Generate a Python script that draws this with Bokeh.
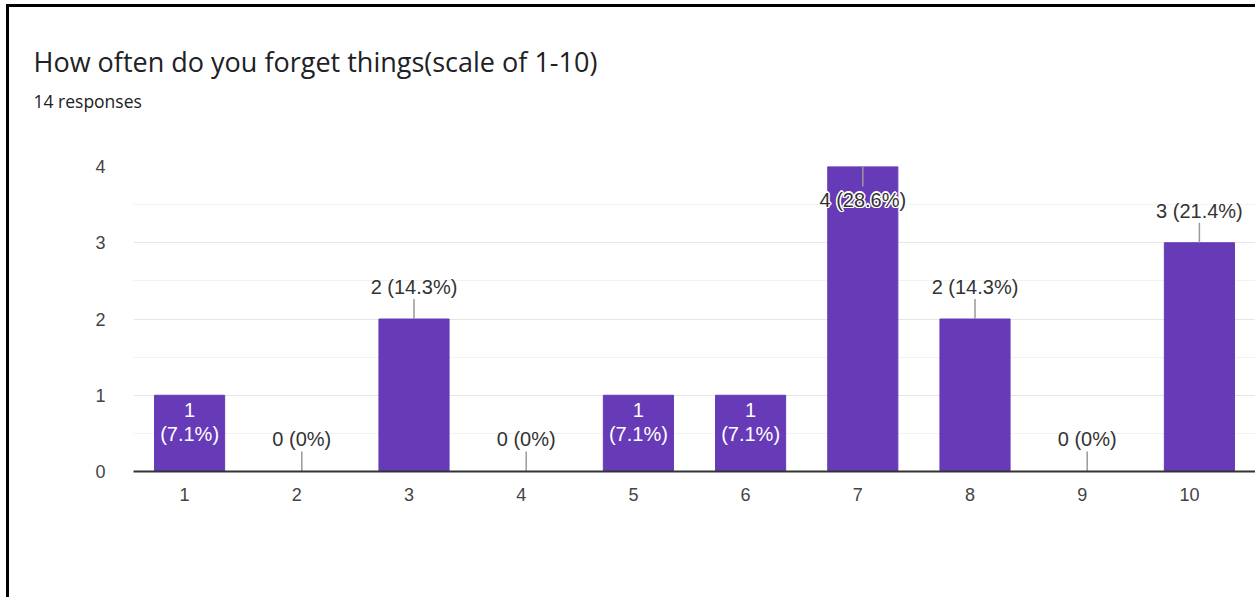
from bokeh.plotting import figure
from bokeh.models import (Title, ColumnDataSource, FactorRange, InlineStyleSheet,
                          Range1d, SingleIntervalTicker)
from bokeh.core.properties import value
from bokeh.embed import file_html
from bokeh.resources import INLINE

# ---- data ----
categories = ["1", "2", "3", "4", "5", "6", "7", "8", "9", "10"]
counts = [1, 0, 2, 0, 1, 1, 4, 2, 0, 3]
pct_labels = ["7.1%", "0%", "14.3%", "0%", "7.1%", "7.1%", "28.6%", "14.3%", "0%", "21.4%"]
y_ticks = [0, 1, 2, 3, 4]
title_text = "How often do you forget things(scale of 1-10)"
subtitle_text = "14 responses"

W, H = 1255, 597
LEFT, BOTTOM = 133, 126
Y_MAX = 4
frame_h = 304
u = Y_MAX / frame_h  # data units per pixel

p = figure(x_range=FactorRange(factors=categories, range_padding=0),
           y_range=Range1d(0, Y_MAX), width=W, height=H,
           output_backend="svg", toolbar_location=None,
           min_border_left=LEFT, min_border_right=0,
           min_border_top=0, min_border_bottom=BOTTOM)
p.outline_line_color = None
p.background_fill_color = "white"
p.border_fill_color = "white"

src = ColumnDataSource(dict(cat=categories, count=counts))
p.vbar(x="cat", top="count", width=0.625, source=src,
       fill_color="#673ab7", line_color="#673ab7")

# axes / grid
p.yaxis.ticker = SingleIntervalTicker(interval=1, num_minor_ticks=2)
p.yaxis.axis_line_color = None
p.yaxis.major_tick_line_color = None
p.yaxis.minor_tick_line_color = None
p.yaxis.major_label_standoff = 22
p.xaxis.axis_line_color = "#333333"
p.xaxis.axis_line_width = 2
p.xaxis.major_tick_line_color = None
p.xaxis.major_label_standoff = 17
for ax in (p.xaxis[0], p.yaxis[0]):
    ax.major_label_text_font = "Liberation Sans"
    ax.major_label_text_font_size = "18px"
    ax.major_label_text_color = "#444444"
p.xaxis.major_label_orientation = 0
p.xgrid.visible = False
p.ygrid.grid_line_color = "#e6e6e6"
p.ygrid.minor_grid_line_color = "#f2f2f2"

# value labels + leader lines
ab_x, ab_y, ab_t = [], [], []
in_x, in_y, in_t = [], [], []
cl_x, cl_y, cl_t = [], [], []
seg_x, seg_y0, seg_y1 = [], [], []
for c, v, pc in zip(categories, counts, pct_labels):
    if 0 < v < 1.5:
        in_x.append(c); in_y.append(v); in_t.append(f"{v}\n({pc})")
    elif v > Y_MAX - 0.5:
        seg_x.append(c); seg_y0.append(v); seg_y1.append(v - 20 * u)
        cl_x.append(c); cl_y.append(v - 20 * u); cl_t.append(f"{v} ({pc})")
    else:
        seg_x.append(c); seg_y0.append(v); seg_y1.append(v + 20 * u)
        ab_x.append(c); ab_y.append(v + 20 * u); ab_t.append(f"{v} ({pc})")

p.segment(x0=seg_x, y0=seg_y0, x1=seg_x, y1=seg_y1, line_color="#999999", line_width=1.5)

font = value("Liberation Sans")
FS = "20px"
p.text(x=ab_x, y=ab_y, text=ab_t, text_align="center", text_baseline="bottom",
       y_offset=-1, text_font=font, text_font_size=FS, text_color="#333333")
p.text(x=in_x, y=in_y, text=in_t, text_align="center", text_baseline="top",
       y_offset=4, text_font=font, text_font_size=FS, text_color="white",
       text_line_height=1.1)
for dx, dy in [(-1, -1), (1, 1), (-1, 1), (1, -1), (0, 1.5), (0, -1.5), (1.5, 0), (-1.5, 0)]:
    p.text(x=cl_x, y=cl_y, text=cl_t, text_align="center", text_baseline="top",
           x_offset=dx, y_offset=2 + dy, text_font=font, text_font_size=FS,
           text_color="white")
p.text(x=cl_x, y=cl_y, text=cl_t, text_align="center", text_baseline="top",
       y_offset=2, text_font=font, text_font_size=FS, text_color="#333333")

# titles stacked above the frame (first added = nearest the frame)
p.add_layout(Title(text=" ", standoff=46.5, text_font_size="1px"), "above")
p.add_layout(Title(text=subtitle_text, align="left", offset=33 - LEFT, standoff=7,
                   text_font="Open Sans", text_font_size="17.5px", text_font_style="normal",
                   text_color="#202124"), "above")
p.add_layout(Title(text=title_text, align="left", offset=33 - LEFT, standoff=7,
                   text_font="Open Sans", text_font_size="27px", text_font_style="normal",
                   text_color="#202124"), "above")
p.add_layout(Title(text=" ", standoff=34, text_font_size="1px"), "above")

# outer frame edges (left and top) via CSS on the plot element
p.stylesheets = [InlineStyleSheet(css="""
:host { position: relative; }
:host::after { content: ''; position: absolute; left: 6px; top: 4px; right: 0; bottom: 0;
  border-left: 3px solid black; border-top: 3px solid black; pointer-events: none; }
""")]

open("out.html", "w").write(file_html(p, INLINE))
